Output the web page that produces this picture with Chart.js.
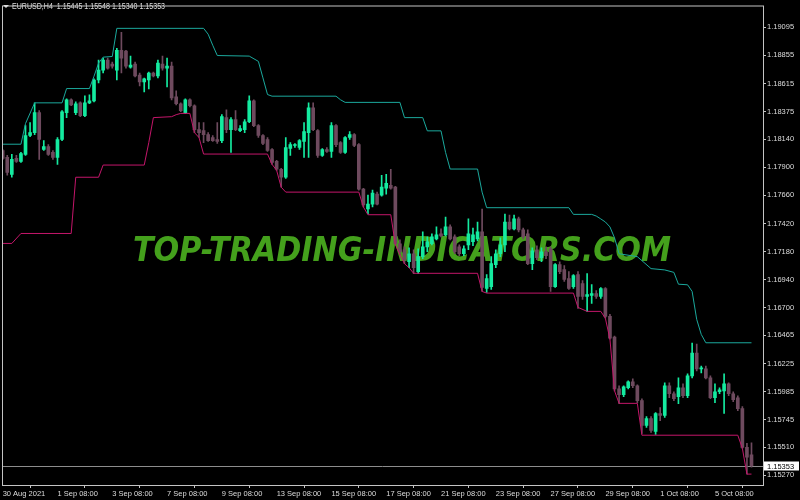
<!DOCTYPE html>
<html>
<head>
<meta charset="utf-8">
<script src="https://cdn.jsdelivr.net/npm/chart.js@4.4.0/dist/chart.umd.min.js"></script>
<style>
  html, body { margin: 0; padding: 0; background: #000; }
</style>
</head>
<body>
<canvas id="chart" width="800" height="500"></canvas>
<script>
// EURUSD H4 candles, one entry per bar (bar 0 = 30 Aug 2021 08:00)
const openPrices = [
  1.18043,1.17985,1.17840,1.17976,1.17951,1.18010,1.18171,1.18196,1.18366,1.18052,
  1.18077,1.18027,1.17985,1.18137,1.18366,1.18476,1.18366,1.18450,1.18341,1.18450,
  1.18467,1.18645,1.18730,1.18815,1.18781,1.18730,1.18899,1.18891,1.18755,1.18781,
  1.18688,1.18628,1.18645,1.18705,1.18679,1.18781,1.18747,1.18764,1.18501,1.18442,
  1.18366,1.18476,1.18425,1.18222,1.18213,1.18179,1.18154,1.18137,1.18128,1.18324,
  1.18222,1.18307,1.18213,1.18222,1.18289,1.18467,1.18256,1.18171,1.18137,1.18052,
  1.17951,1.17883,1.17815,1.18060,1.18086,1.18069,1.18120,1.18196,1.18408,1.18213,
  1.18002,1.18052,1.18035,1.18256,1.18111,1.18027,1.18154,1.18179,1.18094,1.17713,
  1.17544,1.17586,1.17671,1.17662,1.17721,1.17747,1.17730,1.17247,1.17196,1.17094,
  1.17162,1.17009,1.17137,1.17221,1.17247,1.17289,1.17332,1.17323,1.17391,1.17306,
  1.17221,1.17162,1.17238,1.17264,1.17289,1.17349,1.16865,1.16882,1.17069,1.17162,
  1.17238,1.17433,1.17374,1.17459,1.17366,1.17332,1.17077,1.17196,1.17128,1.17179,
  1.17204,1.16882,1.17069,1.17026,1.16950,1.16882,1.16984,1.16908,1.16797,1.16806,
  1.16823,1.16797,1.16865,1.16628,1.16450,1.16009,1.15958,1.16018,1.16069,1.16035,
  1.15908,1.15696,1.15755,1.15645,1.15798,1.15781,1.16035,1.15967,1.15941,1.16018,
  1.15950,1.16120,1.16314,1.16179,1.16179,1.16103,1.15933,1.15984,1.15992,1.16052,
  1.15967,1.15933,1.15840,1.15509,1.15445
];
const highPrices = [
  1.18052,1.18002,1.18010,1.18002,1.18027,1.18256,1.18281,1.18450,1.18383,1.18128,
  1.18094,1.18043,1.18154,1.18383,1.18484,1.18484,1.18459,1.18459,1.18509,1.18518,
  1.18654,1.18815,1.18832,1.18832,1.18798,1.18916,1.19052,1.18899,1.18849,1.18798,
  1.18705,1.18662,1.18713,1.18713,1.18815,1.18849,1.18832,1.18798,1.18552,1.18450,
  1.18484,1.18484,1.18433,1.18281,1.18281,1.18196,1.18171,1.18281,1.18349,1.18391,
  1.18324,1.18383,1.18256,1.18307,1.18509,1.18476,1.18264,1.18179,1.18154,1.18060,
  1.17959,1.17891,1.18154,1.18111,1.18103,1.18137,1.18281,1.18450,1.18450,1.18222,
  1.18060,1.18069,1.18281,1.18264,1.18120,1.18162,1.18205,1.18188,1.18103,1.17721,
  1.17662,1.17705,1.17688,1.17832,1.17840,1.17883,1.17738,1.17281,1.17221,1.17213,
  1.17196,1.17204,1.17349,1.17306,1.17332,1.17391,1.17374,1.17476,1.17408,1.17323,
  1.17238,1.17230,1.17459,1.17382,1.17433,1.17543,1.16984,1.17137,1.17196,1.17298,
  1.17501,1.17493,1.17493,1.17476,1.17382,1.17366,1.17213,1.17230,1.17213,1.17221,
  1.17221,1.17077,1.17094,1.17060,1.17009,1.16984,1.17009,1.16933,1.16992,1.16899,
  1.16848,1.16874,1.16874,1.16645,1.16459,1.16035,1.16035,1.16077,1.16094,1.16043,
  1.15924,1.15772,1.15772,1.15806,1.15849,1.16060,1.16060,1.15984,1.16103,1.16052,
  1.16137,1.16399,1.16391,1.16204,1.16204,1.16120,1.16052,1.16018,1.16137,1.16060,
  1.15984,1.15950,1.15857,1.15543,1.15548
];
const lowPrices = [
  1.17968,1.17832,1.17815,1.17942,1.17942,1.18002,1.18162,1.18179,1.17968,1.18043,
  1.18002,1.17968,1.17925,1.18128,1.18324,1.18425,1.18349,1.18332,1.18332,1.18442,
  1.18459,1.18620,1.18705,1.18738,1.18747,1.18645,1.18705,1.18747,1.18747,1.18671,
  1.18595,1.18544,1.18569,1.18671,1.18662,1.18730,1.18586,1.18476,1.18433,1.18374,
  1.18357,1.18416,1.18196,1.18154,1.18111,1.18120,1.18120,1.18103,1.18111,1.18196,
  1.18027,1.18213,1.18205,1.18196,1.18281,1.18247,1.18154,1.18094,1.18035,1.17925,
  1.17874,1.17730,1.17806,1.18002,1.18069,1.18052,1.17985,1.17985,1.18213,1.17985,
  1.17993,1.18027,1.17985,1.18077,1.18018,1.18018,1.18137,1.18077,1.17705,1.17561,
  1.17501,1.17561,1.17578,1.17654,1.17671,1.17713,1.17238,1.17154,1.17077,1.17043,
  1.16992,1.16992,1.17120,1.17179,1.17238,1.17281,1.17306,1.17315,1.17281,1.17162,
  1.17145,1.17145,1.17196,1.17230,1.17272,1.16840,1.16832,1.16857,1.17043,1.17137,
  1.17179,1.17366,1.17366,1.17349,1.17289,1.17069,1.17026,1.17111,1.17094,1.17120,
  1.16840,1.16874,1.16992,1.16925,1.16857,1.16865,1.16696,1.16772,1.16670,1.16738,
  1.16780,1.16780,1.16611,1.16433,1.15992,1.15882,1.15941,1.16009,1.16018,1.15891,
  1.15628,1.15679,1.15636,1.15619,1.15738,1.15764,1.15933,1.15908,1.15882,1.15933,
  1.15933,1.16103,1.16162,1.16145,1.16094,1.15924,1.15891,1.15967,1.15798,1.15950,
  1.15899,1.15823,1.15501,1.15281,1.15340
];
const closePrices = [
  1.17976,1.17857,1.17968,1.17951,1.18018,1.18171,1.18196,1.18366,1.18137,1.18077,
  1.18010,1.17985,1.18137,1.18374,1.18476,1.18433,1.18442,1.18341,1.18450,1.18467,
  1.18645,1.18730,1.18815,1.18747,1.18764,1.18899,1.18832,1.18764,1.18772,1.18679,
  1.18628,1.18654,1.18705,1.18679,1.18789,1.18747,1.18764,1.18493,1.18442,1.18383,
  1.18476,1.18425,1.18222,1.18196,1.18179,1.18128,1.18128,1.18120,1.18332,1.18222,
  1.18307,1.18222,1.18230,1.18289,1.18467,1.18256,1.18171,1.18103,1.18043,1.17942,
  1.17883,1.17815,1.18069,1.18094,1.18094,1.18128,1.18205,1.18408,1.18222,1.18002,
  1.18052,1.18035,1.18256,1.18094,1.18027,1.18154,1.18179,1.18086,1.17713,1.17578,
  1.17586,1.17679,1.17586,1.17730,1.17764,1.17721,1.17247,1.17179,1.17111,1.17162,
  1.17043,1.17137,1.17221,1.17264,1.17306,1.17323,1.17315,1.17391,1.17289,1.17179,
  1.17162,1.17204,1.17332,1.17323,1.17349,1.16874,1.16950,1.17077,1.17162,1.17238,
  1.17433,1.17374,1.17459,1.17366,1.17306,1.17077,1.17187,1.17128,1.17179,1.17145,
  1.16882,1.17069,1.17009,1.16942,1.16865,1.16975,1.16797,1.16797,1.16814,1.16823,
  1.16797,1.16865,1.16628,1.16442,1.16009,1.15958,1.16026,1.16069,1.16035,1.15908,
  1.15696,1.15755,1.15653,1.15798,1.15781,1.16035,1.15967,1.15924,1.16018,1.15950,
  1.16120,1.16314,1.16179,1.16187,1.16103,1.15933,1.15984,1.16001,1.16052,1.15967,
  1.15916,1.15840,1.15509,1.15425,1.15353
];

// channel lines, given at the bars where they change
const upperBars = [0,4,5,7,13,14,19,20,21,22,24,25,44,45,46,47,54,56,57,58,59,73,74,75,87,88,92,93,96,97,
  98,104,105,106,124,125,129,130,131,132,133,134,135,139,140,142,145,147,148,150,151,152,153,154,164];
const upperValues = [1.18097,1.18097,1.18273,1.18450,1.18450,1.18572,1.18572,1.18677,1.18789,1.18840,
  1.18846,1.19086,1.19086,1.19036,1.18942,1.18854,1.18849,1.18804,1.18663,1.18521,
  1.18507,1.18507,1.18476,1.18454,1.18454,1.18324,1.18324,1.18211,1.18211,1.18027,
  1.17885,1.17885,1.17688,1.17555,1.17555,1.17498,1.17498,1.17484,1.17459,1.17433,
  1.17391,1.17298,1.17162,1.17137,1.17103,1.17035,1.17024,1.17003,1.16902,1.16897,
  1.16840,1.16602,1.16473,1.16402,1.16402];
const lowerBars = [0,2,4,15,16,21,22,31,32,33,37,38,39,41,42,43,44,58,59,60,61,62,78,79,80,85,86,87,88,89,
  90,104,105,106,125,126,128,131,132,133,134,135,139,140,161,162,163,164];
const lowerValues = [1.17250,1.17250,1.17335,1.17335,1.17815,1.17815,1.17919,1.17919,1.18111,1.18324,
  1.18332,1.18349,1.18360,1.18360,1.18196,1.18154,1.18013,1.18013,1.17925,1.17874,
  1.17730,1.17688,1.17688,1.17561,1.17495,1.17495,1.17241,1.17154,1.17077,1.17043,
  1.16995,1.16995,1.16840,1.16826,1.16826,1.16704,1.16670,1.16670,1.16611,1.16433,
  1.15992,1.15885,1.15885,1.15613,1.15613,1.15501,1.15281,1.15281];

const priceTicks = [1.19095,1.18855,1.18615,1.18375,1.18140,1.17900,1.17660,1.17420,1.17180,
  1.16940,1.16700,1.16465,1.16225,1.15985,1.15745,1.15510,1.15270];
const timeLabels = ['30 Aug 2021','1 Sep 08:00','3 Sep 08:00','7 Sep 08:00','9 Sep 08:00','13 Sep 08:00',
  '15 Sep 08:00','17 Sep 08:00','21 Sep 08:00','23 Sep 08:00','27 Sep 08:00','29 Sep 08:00',
  '1 Oct 08:00','5 Oct 08:00'];
const labelStep = 12;
const lastPrice = 1.15353;
const headerText = 'EURUSD,H4  1.15445 1.15548 1.15340 1.15353';
const watermark = 'TOP-TRADING-INDICATORS.COM';

const bullColor = '#14eba0';
const bearColor = '#6e4a5e';
const frameColor = '#c4c4c4';
const textColor = '#dcdcdc';
const labelFont = '"Liberation Sans", Arial, sans-serif';

const candleColors = openPrices.map((o, i) => closePrices[i] >= o ? bullColor : bearColor);
const wickData = openPrices.map((o, i) => ({ x: i, y: [lowPrices[i], highPrices[i]] }));
const bodyData = openPrices.map((o, i) => ({ x: i, y: [Math.min(o, closePrices[i]), Math.max(o, closePrices[i])] }));
const upperData = upperBars.map((b, i) => ({ x: b, y: upperValues[i] }));
const lowerData = lowerBars.map((b, i) => ({ x: b, y: lowerValues[i] }));

const chartDecor = {
  id: 'chartDecor',
  beforeDatasetsDraw(chart) {
    const { ctx, chartArea, scales } = chart;
    // site watermark behind the candles
    ctx.save();
    ctx.font = 'bold italic 34px "DejaVu Sans"';
    const w = ctx.measureText(watermark).width;
    ctx.translate(133, 261);
    ctx.scale(538 / w, 1);
    ctx.fillStyle = '#44a01c';
    ctx.textBaseline = 'alphabetic';
    ctx.fillText(watermark, 0, 0);
    ctx.restore();

    // bid line
    const y = Math.round(scales.y.getPixelForValue(lastPrice)) + 0.5;
    ctx.save();
    ctx.strokeStyle = '#8c8c8c';
    ctx.lineWidth = 1;
    ctx.beginPath();
    ctx.moveTo(chartArea.left, y);
    ctx.lineTo(chartArea.right, y);
    ctx.stroke();
    ctx.restore();
  },
  afterDraw(chart) {
    const { ctx, chartArea, scales } = chart;
    ctx.save();
    ctx.strokeStyle = frameColor;
    ctx.lineWidth = 1;
    ctx.strokeRect(chartArea.left + 0.5, chartArea.top + 0.5,
      chartArea.right - chartArea.left, chartArea.bottom - chartArea.top);

    // current price box on the price scale
    const y = Math.round(scales.y.getPixelForValue(lastPrice));
    ctx.fillStyle = '#ffffff';
    ctx.fillRect(chartArea.right + 1, y - 4.5, 35, 9);
    ctx.fillStyle = '#000000';
    ctx.font = '7.5px ' + labelFont;
    ctx.textBaseline = 'middle';
    ctx.fillText(lastPrice.toFixed(5), chartArea.right + 4, y + 0.5);

    // symbol header
    ctx.fillStyle = textColor;
    ctx.beginPath();
    ctx.moveTo(3, 5);
    ctx.lineTo(9, 5);
    ctx.lineTo(6, 8);
    ctx.closePath();
    ctx.fill();
    ctx.font = '8.5px ' + labelFont;
    const hw = ctx.measureText(headerText).width;
    ctx.translate(12, 7);
    ctx.scale(153 / hw, 1);
    ctx.fillText(headerText, 0, 0);
    ctx.restore();
  }
};

Chart.defaults.font.family = labelFont;
Chart.defaults.font.size = 7.5;
Chart.defaults.color = textColor;

new Chart(document.getElementById('chart'), {
  type: 'bar',
  data: {
    datasets: [
      {
        type: 'line',
        data: upperData,
        borderColor: '#1ba89c',
        borderWidth: 1,
        pointRadius: 0,
        tension: 0,
        clip: 0,
        order: 0
      },
      {
        type: 'line',
        data: lowerData,
        borderColor: '#c4166a',
        borderWidth: 1,
        pointRadius: 0,
        tension: 0,
        clip: 0,
        order: 0
      },
      {
        data: bodyData,
        backgroundColor: candleColors,
        barThickness: 3,
        maxBarThickness: 3,
        minBarLength: 1,
        grouped: false,
        borderWidth: 0,
        clip: 0,
        order: 1
      },
      {
        data: wickData,
        backgroundColor: candleColors,
        barThickness: 1,
        maxBarThickness: 1,
        grouped: false,
        borderWidth: 0,
        clip: 0,
        order: 2
      }
    ]
  },
  options: {
    responsive: false,
    animation: false,
    events: [],
    layout: { padding: { top: 2, left: 2, right: 0, bottom: 0 } },
    plugins: { legend: { display: false }, tooltip: { enabled: false } },
    scales: {
      x: {
        type: 'linear',
        min: -0.15,
        max: 166.52,
        bounds: 'data',
        offset: false,
        afterBuildTicks: (scale) => {
          scale.ticks = timeLabels.map((t, k) => ({ value: k * labelStep }));
        },
        afterFit: (scale) => { scale.height = 15; },
        grid: { drawOnChartArea: false, drawTicks: true, tickLength: 3, color: frameColor },
        border: { display: false },
        ticks: {
          autoSkip: false,
          maxRotation: 0,
          align: 'start',
          padding: 1,
          color: textColor,
          callback: (value, index) => timeLabels[index]
        }
      },
      y: {
        type: 'linear',
        position: 'right',
        min: 1.15188,
        max: 1.19281,
        bounds: 'data',
        afterBuildTicks: (scale) => {
          scale.ticks = priceTicks.map(v => ({ value: v }));
        },
        afterFit: (scale) => { scale.width = 37; },
        grid: { drawOnChartArea: false, drawTicks: true, tickLength: 3, color: frameColor },
        border: { display: false },
        ticks: {
          padding: 1,
          color: textColor,
          crossAlign: 'near',
          callback: (value) => value.toFixed(5)
        }
      }
    }
  },
  plugins: [chartDecor]
});
</script>
</body>
</html>
